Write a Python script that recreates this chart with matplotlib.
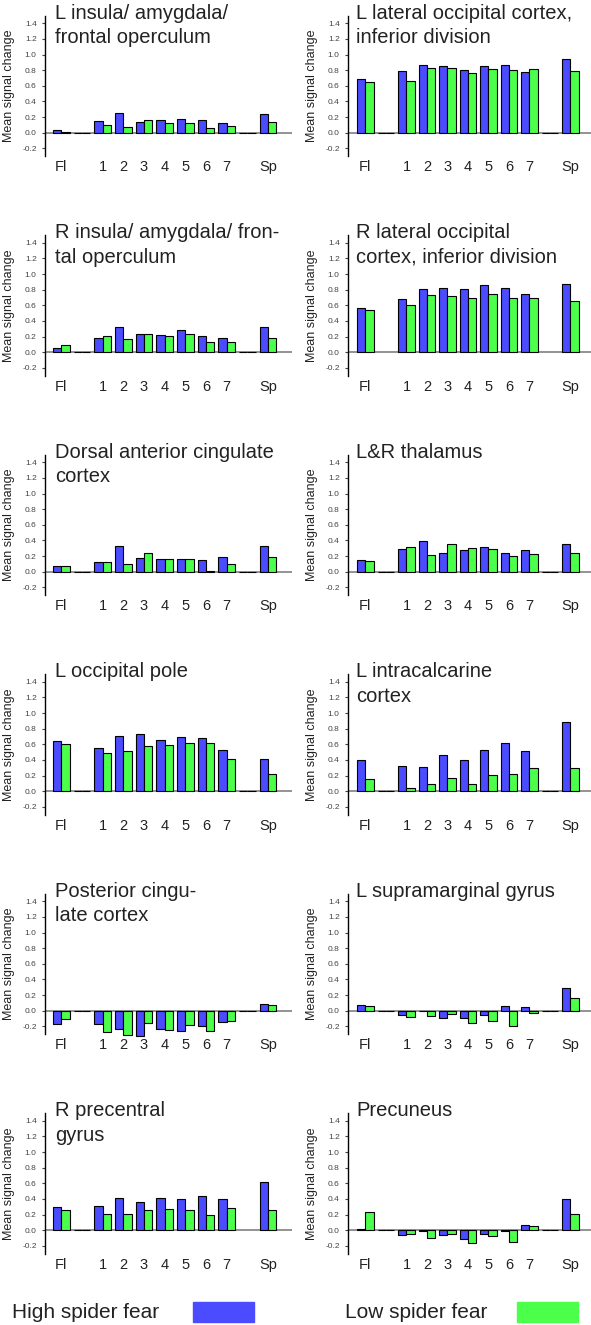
import numpy as np
import matplotlib
matplotlib.use("Agg")
import matplotlib.pyplot as plt
from matplotlib.patches import Rectangle

plt.rcParams['font.family'] = ['Liberation Sans', 'DejaVu Sans']

# conditions: Fl, blank, 1..7, blank, Sp
conds = ["Fl", "", "1", "2", "3", "4", "5", "6", "7", "", "Sp"]

titles = [
    "L insula/ amygdala/\nfrontal operculum",
    "L lateral occipital cortex,\ninferior division",
    "R insula/ amygdala/ fron-\ntal operculum",
    "R lateral occipital\ncortex, inferior division",
    "Dorsal anterior cingulate\ncortex",
    "L&R thalamus",
    "L occipital pole",
    "L intracalcarine\ncortex",
    "Posterior cingu-\nlate cortex",
    "L supramarginal gyrus",
    "R precentral\ngyrus",
    "Precuneus",
]

nan = np.nan
high = [
    [0.034, 0, 0.145, 0.25, 0.137, 0.16, 0.17, 0.16, 0.12, 0, 0.235],
    [0.683, 0, 0.79, 0.862, 0.854, 0.798, 0.849, 0.866, 0.772, 0, 0.95],
    [0.06, 0, 0.188, 0.317, 0.235, 0.223, 0.278, 0.21, 0.184, 0, 0.317],
    [0.57, nan, 0.685, 0.814, 0.827, 0.81, 0.865, 0.827, 0.75, nan, 0.878],
    [0.069, 0, 0.12, 0.326, 0.172, 0.159, 0.159, 0.146, 0.185, 0, 0.335],
    [0.146, 0, 0.288, 0.395, 0.245, 0.279, 0.313, 0.245, 0.275, 0, 0.352],
    [0.642, 0, 0.548, 0.711, 0.728, 0.655, 0.69, 0.677, 0.527, 0, 0.407],
    [0.394, 0, 0.325, 0.308, 0.458, 0.398, 0.531, 0.612, 0.51, 0, 0.882],
    [-0.171, 0, -0.171, -0.236, -0.33, -0.24, -0.257, -0.193, -0.141, 0, 0.086],
    [0.073, 0, -0.056, -0.005, -0.094, -0.098, -0.056, 0.064, 0.047, 0, 0.291],
    [0.298, 0, 0.315, 0.417, 0.366, 0.409, 0.404, 0.443, 0.404, nan, 0.621],
    [0.013, 0, -0.06, -0.01, -0.06, -0.111, -0.043, -0.005, 0.068, 0, 0.404],
]
low = [
    [0.01, 0, 0.10, 0.07, 0.16, 0.12, 0.12, 0.055, 0.09, 0, 0.14],
    [0.653, 0, 0.66, 0.824, 0.824, 0.76, 0.815, 0.798, 0.81, 0, 0.785],
    [0.098, 0, 0.21, 0.171, 0.235, 0.21, 0.235, 0.133, 0.133, 0, 0.184],
    [0.535, nan, 0.604, 0.737, 0.724, 0.69, 0.75, 0.69, 0.70, nan, 0.66],
    [0.073, 0, 0.12, 0.099, 0.236, 0.163, 0.159, 0.013, 0.094, 0, 0.185],
    [0.142, 0, 0.31, 0.21, 0.352, 0.30, 0.288, 0.197, 0.232, 0, 0.245],
    [0.60, 0, 0.492, 0.518, 0.574, 0.587, 0.612, 0.612, 0.407, 0, 0.214],
    [0.15, 0, 0.043, 0.098, 0.171, 0.086, 0.205, 0.214, 0.30, 0, 0.291],
    [-0.103, 0, -0.27, -0.308, -0.158, -0.244, -0.18, -0.257, -0.133, 0, 0.073],
    [0.064, 0, -0.081, -0.068, -0.047, -0.163, -0.137, -0.193, -0.034, 0, 0.163],
    [0.264, 0, 0.209, 0.204, 0.264, 0.268, 0.264, 0.191, 0.281, nan, 0.264],
    [0.234, 0, -0.047, -0.102, -0.043, -0.162, -0.068, -0.149, 0.06, 0, 0.209],
]

legend_labels = ["High spider fear", "Low spider fear"]
blue = "#4b4bff"
green = "#4bff4b"

W, H = 591, 1325
fig = plt.figure(figsize=(W / 100, H / 100), dpi=100)

def px_axes(x0, y0, w, h):
    return fig.add_axes([x0 / W, 1 - (y0 + h) / H, w / W, h / H])

x = np.arange(len(conds))
unit = 15.62  # px per 0.2
for i in range(12):
    row, col = i // 2, i % 2
    yz = 132.7 + 219.5 * row
    top = yz - 7.5 * unit
    bot = yz + 1.5 * unit
    if col == 0:
        x0, x1, xl = 45, 292, (-0.79, 11.16)
    else:
        x0, x1, xl = 348, 591, (-0.85, 11.0)
    ax = px_axes(x0, top, x1 - x0, bot - top)
    ax.axhline(0, color="#808080", lw=1.2, zorder=1)
    ax.bar(x - 0.2, high[i], 0.4, color=blue, edgecolor="black", lw=0.8, zorder=2, clip_on=False)
    ax.bar(x + 0.2, low[i], 0.4, color=green, edgecolor="black", lw=0.8, zorder=2, clip_on=False)
    ax.set_xlim(*xl)
    ax.set_ylim(-0.3, 1.5)
    ax.set_yticks(np.arange(-0.2, 1.41, 0.2))
    ax.set_yticklabels(["%.1f" % v for v in np.arange(-0.2, 1.41, 0.2)])
    ax.set_xticks(x)
    ax.set_xticklabels(conds)
    ax.tick_params(axis="y", labelsize=6, colors="#444444", length=2, pad=4)
    ax.tick_params(axis="x", labelsize=10.5, colors="#222222", length=0, pad=3)
    for s in ["top", "right", "bottom"]:
        ax.spines[s].set_visible(False)
    ax.spines["left"].set_linewidth(1.0)
    ax.set_ylabel("Mean signal change", fontsize=9, color="#222222")
    ax.yaxis.set_label_coords(-30 / (x1 - x0), 0.5)
    ax.patch.set_alpha(0)
    tx = x0 + (10 if col == 0 else 8)
    fig.text(tx / W, 1 - (yz - 129) / H, titles[i], fontsize=14.5, color="#222222",
             ha="left", va="top", linespacing=1.37)

# legend at bottom
fig.text(11.7 / W, 1 - 1313 / H, legend_labels[0], fontsize=15, color="#222222", va="center")
fig.text(345 / W, 1 - 1313 / H, legend_labels[1], fontsize=15, color="#222222", va="center")
fig.patches.append(Rectangle((192.7 / W, 1 - 1321.7 / H), 61.3 / W, 20 / H,
                             transform=fig.transFigure, color=blue))
fig.patches.append(Rectangle((516.7 / W, 1 - 1321.7 / H), 61.6 / W, 20 / H,
                             transform=fig.transFigure, color=green))

fig.savefig("out.png", dpi=100)
